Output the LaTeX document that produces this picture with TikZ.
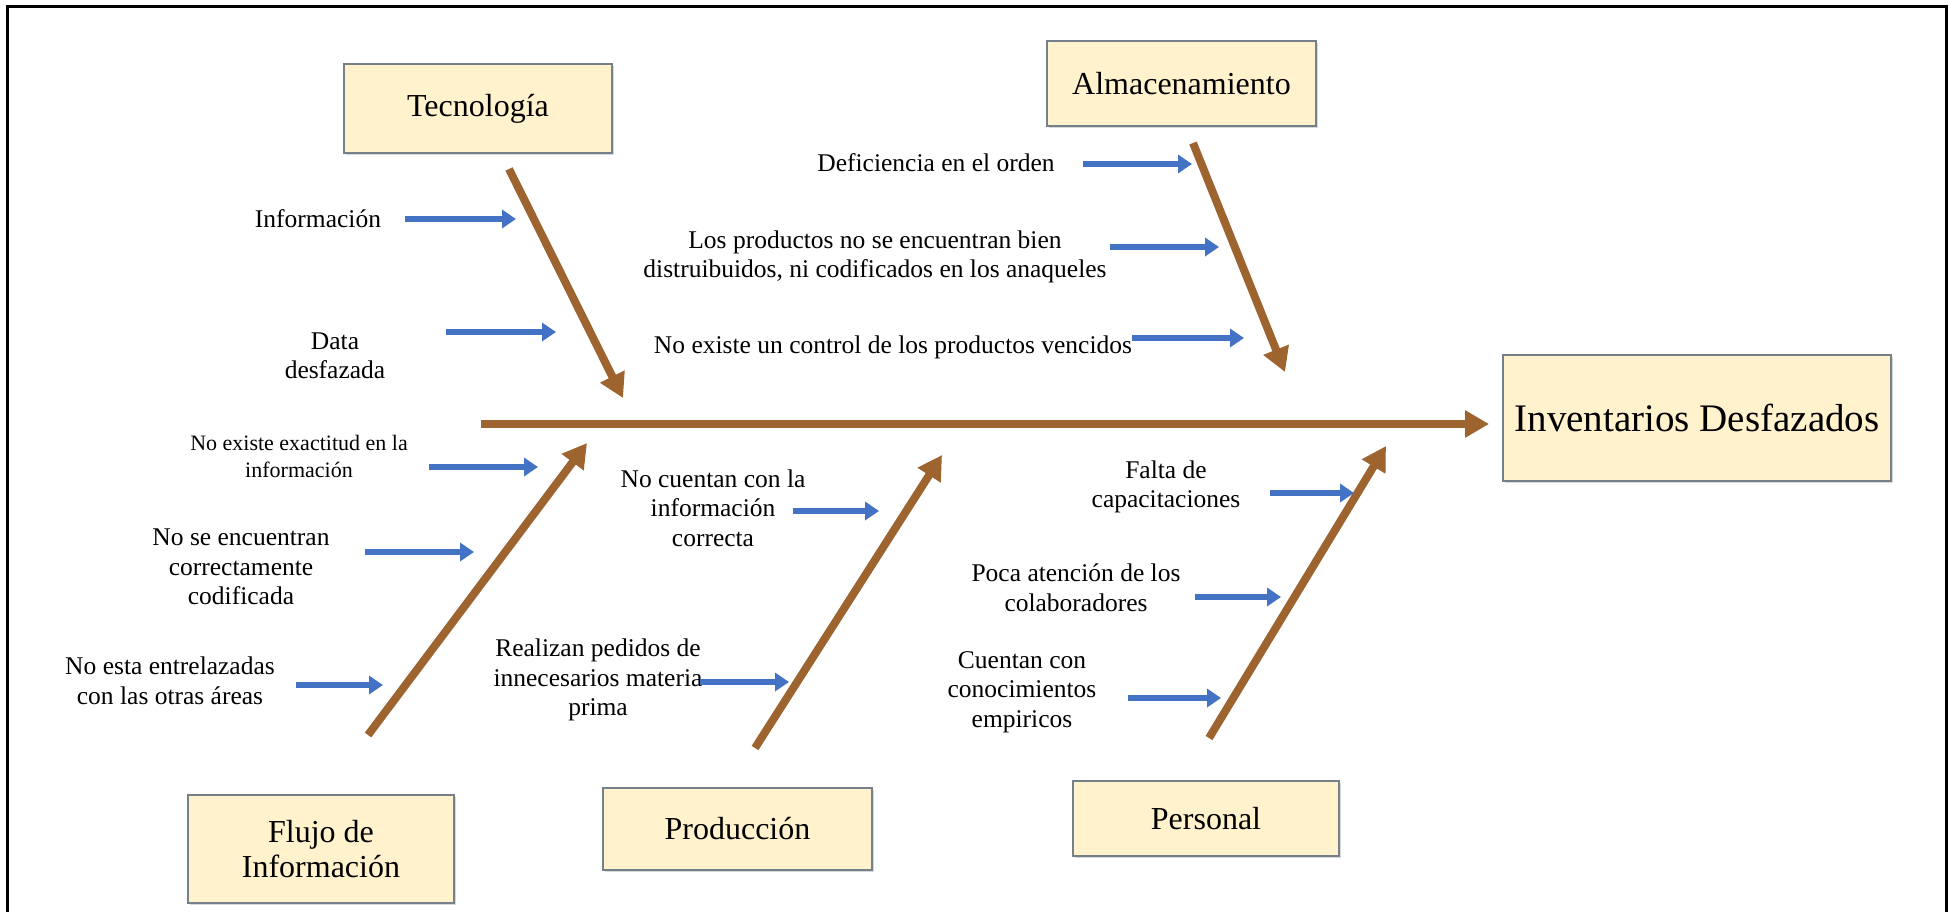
\documentclass[tikz,border=0pt]{standalone}
\usepackage{fontspec}
\setmainfont{Liberation Serif}
\usetikzlibrary{arrows.meta,shadows}
\definecolor{bonebrown}{RGB}{158,100,48}
\definecolor{causeblue}{RGB}{68,114,196}
\definecolor{boxfill}{RGB}{255,242,204}
\definecolor{boxline}{RGB}{118,128,138}
\begin{document}
\begin{tikzpicture}[x=1pt,y=-1pt,
  catbox/.style={draw=boxline, line width=2pt, fill=boxfill,
    drop shadow={opacity=0.3, shadow xshift=2pt, shadow yshift=-2pt},
    font=\fontsize{32}{35}\selectfont, align=center, inner sep=0pt},
  lbl/.style={inner sep=0pt, align=center, font=\fontsize{25.5}{29.5}\selectfont},
  lblsmall/.style={inner sep=0pt, align=center, font=\fontsize{22}{27}\selectfont},
  bone/.style={draw=bonebrown, line width=8pt, -{Triangle[width=26pt,length=24pt]}},
  cause/.style={draw=causeblue, line width=6pt, -{Triangle[width=18pt,length=14pt]}}]

\useasboundingbox (0,0) rectangle (1949,912);
\fill[white] (0,0) rectangle (1949,912);
% outer frame (open at the bottom)
\draw[line width=3pt] (7,912) -- (7,7) -- (1946,7) -- (1946,912);

% category boxes
\node[catbox, minimum width=268pt, minimum height=89pt] (tec) at (478,108.5) {Tecnología};
\node[catbox, minimum width=269pt, minimum height=85pt] (alm) at (1181.5,83.5) {Almacenamiento};
\node[catbox, minimum width=388pt, minimum height=126pt, font=\fontsize{39}{44}\selectfont] (inv) at (1697,418) {Inventarios Desfazados};
\node[catbox, minimum width=266pt, minimum height=108pt] (flu) at (321,849) {Flujo de\\Información};
\node[catbox, minimum width=269pt, minimum height=82pt] (pro) at (737.5,829) {Producción};
\node[catbox, minimum width=266pt, minimum height=75pt] (per) at (1206,818.5) {Personal};

% bone coordinates
\coordinate (spine0) at (481,424);
\coordinate (tec0) at (509,169);   \coordinate (tec1) at (623,398);
\coordinate (alm0) at (1193,143);  \coordinate (alm1) at (1285,372);
\coordinate (flu0) at (368,735);   \coordinate (flu1) at (587,443);
\coordinate (pro0) at (755,748);   \coordinate (pro1) at (942,455);
\coordinate (per0) at (1209,738);  \coordinate (per1) at (1386,446);

\draw[bone] (spine0) -- (spine0 -| inv.west) [shorten >=13pt];
\draw[bone] (tec0) -- (tec1);
\draw[bone] (alm0) -- (alm1);
\draw[bone] (flu0) -- (flu1);
\draw[bone] (pro0) -- (pro1);
\draw[bone] (per0) -- (per1);

% cause labels
\node[lbl] (c1) at (318,219) {Información};
\node[lbl] (c2) at (335,356) {Data\\desfazada};
\node[lbl] (c3) at (936,163) {Deficiencia en el orden};
\node[lbl] (c4) at (875,257) {Los productos no se encuentran bien\\distruibuidos, ni codificados en los anaqueles};
\node[lbl] (c5) at (893,347) {No existe un control de los productos vencidos};
\node[lblsmall] (c6) at (299,456) {No existe exactitud en la\\información};
\node[lbl] (c7) at (241,567) {No se encuentran\\correctamente\\codificada};
\node[lbl] (c8) at (170,681) {No esta entrelazadas\\con las otras áreas};
\node[lbl] (c9) at (713,508) {No cuentan con la\\información\\correcta};
\node[lbl] (c10) at (598,680) {Realizan pedidos de\\innecesarios materia\\prima};
\node[lbl] (c11) at (1166,487) {Falta de\\capacitaciones};
\node[lbl] (c12) at (1076,588) {Poca atención de los\\colaboradores};
\node[lbl] (c13) at (1022,692) {Cuentan con\\conocimientos\\empiricos};

% cause arrows
\coordinate (a1s) at (405,219);  \coordinate (a1e) at (516,219);
\coordinate (a2s) at (446,332);  \coordinate (a2e) at (556,332);
\coordinate (a3s) at (1083,164); \coordinate (a3e) at (1192,164);
\coordinate (a4s) at (1110,247); \coordinate (a4e) at (1219,247);
\coordinate (a5s) at (1132,338); \coordinate (a5e) at (1244,338);
\coordinate (a6s) at (429,467);  \coordinate (a6e) at (538,467);
\coordinate (a7s) at (365,552);  \coordinate (a7e) at (474,552);
\coordinate (a8s) at (296,685);  \coordinate (a8e) at (383,685);
\coordinate (a9s) at (793,511);  \coordinate (a9e) at (879,511);
\coordinate (a10s) at (700,682); \coordinate (a10e) at (789,682);
\coordinate (a11s) at (1270,493); \coordinate (a11e) at (1354,493);
\coordinate (a12s) at (1195,597); \coordinate (a12e) at (1281,597);
\coordinate (a13s) at (1128,698); \coordinate (a13e) at (1221,698);

\foreach \i in {1,...,13} { \draw[cause] (a\i s) -- (a\i e); }
\end{tikzpicture}
\end{document}
